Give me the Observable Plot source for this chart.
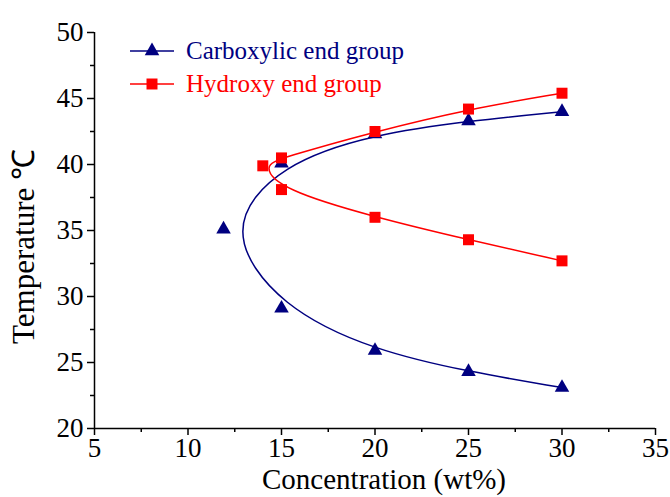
<!DOCTYPE html>
<html>
<head>
<meta charset="utf-8">
<script src="https://cdn.jsdelivr.net/npm/d3@7"></script>
<script src="https://cdn.jsdelivr.net/npm/@observablehq/plot@0.6"></script>
<style>
  html, body { margin: 0; padding: 0; background: #fff; }
  #wrap { position: relative; width: 670px; height: 497px; }
  #chart svg text { font-family: "Liberation Serif", "Times New Roman", serif; }
  #legend { position: absolute; left: 128px; top: 34px; font-family: "Liberation Serif", "Times New Roman", serif; font-size: 25px; }
  .row { display: flex; align-items: center; height: 33px; }
  .row svg { margin-right: 10px; }
</style>
</head>
<body>
<div id="wrap">
  <div id="chart"></div>
  <div id="legend"></div>
</div>
<script>
// Carboxylic end group (path order along the fitted curve)
const carbConc = [30, 25, 20, 15, 11.9, 15, 20, 25, 30];
const carbTemp = [44.0, 43.3, 42.3, 40.1, 35.1, 29.1, 25.9, 24.3, 23.1];
// Hydroxy end group
const hydConc = [30, 25, 20, 15, 14, 15, 20, 25, 30];
const hydTemp = [45.4, 44.2, 42.5, 40.5, 39.9, 38.1, 36.0, 34.3, 32.7];

const seriesNames = ["Carboxylic end group", "Hydroxy end group"];
const xMajor = [5, 10, 15, 20, 25, 30, 35];
const xMinor = [7.5, 12.5, 17.5, 22.5, 27.5, 32.5];
const yMajor = [20, 25, 30, 35, 40, 45, 50];
const yMinor = [22.5, 27.5, 32.5, 37.5, 42.5, 47.5];
const xTitle = "Concentration (wt%)";
const yTitle = "Temperature \u2103";

const BLUE = "#000080";
const RED = "#ff0000";
const FONT = "'Liberation Serif', 'Times New Roman', serif";

const carb = carbConc.map((c, i) => ({c, t: carbTemp[i]}));
const hyd = hydConc.map((c, i) => ({c, t: hydTemp[i]}));

const plot = Plot.plot({
  width: 670,
  height: 497,
  marginLeft: 94,
  marginRight: 15,
  marginTop: 32,
  marginBottom: 69,
  style: {fontFamily: FONT, background: "#fff", color: "#000"},
  x: {domain: [5, 35]},
  y: {domain: [20, 50]},
  marks: [
    Plot.axisX(xMajor, {tickSize: 7, tickPadding: 2, fontSize: 27, fontFamily: FONT, fontVariant: "normal", label: null, strokeWidth: 1.5}),
    Plot.axisX(xMinor, {tickSize: 4, tickFormat: () => "", label: null, strokeWidth: 1.5}),
    Plot.axisY(yMajor, {tickSize: 7, tickPadding: 4, fontSize: 27, fontFamily: FONT, fontVariant: "normal", label: null, strokeWidth: 1.5}),
    Plot.axisY(yMinor, {tickSize: 4, tickFormat: () => "", label: null, strokeWidth: 1.5}),
    Plot.ruleX([5], {stroke: "#000", strokeWidth: 1.5}),
    Plot.ruleY([20], {stroke: "#000", strokeWidth: 1.5}),
    Plot.line(carb, {x: "c", y: "t", curve: "basis", stroke: BLUE, strokeWidth: 1.5}),
    Plot.line(hyd, {x: "c", y: "t", curve: "basis", stroke: RED, strokeWidth: 1.5}),
    Plot.dot(carb, {x: "c", y: "t", symbol: "triangle", r: 5.4, fill: BLUE, stroke: "none"}),
    Plot.dot(hyd, {x: "c", y: "t", symbol: "square", r: 6.2, fill: RED, stroke: "none"}),
    Plot.text([xTitle], {frameAnchor: "bottom", textAnchor: "middle", dy: 60, dx: 9, fontSize: 29, fontFamily: FONT, lineAnchor: "bottom"}),
    Plot.text([yTitle], {frameAnchor: "left", textAnchor: "middle", dx: -70, dy: 16, rotate: -90, fontSize: 31, fontFamily: FONT})
  ]
});
document.getElementById("chart").appendChild(plot);

// legend inside the plot area
const legend = d3.select("#legend");
const sym = [d3.symbolTriangle, d3.symbolSquare];
const sizes = [Math.PI * 5.4 * 5.4, Math.PI * 6.2 * 6.2];
const cols = [BLUE, RED];
seriesNames.forEach((name, i) => {
  const row = legend.append("div").attr("class", "row");
  const s = row.append("svg").attr("width", 48).attr("height", 20);
  s.append("line").attr("x1", 2).attr("x2", 46).attr("y1", 10).attr("y2", 10).attr("stroke", cols[i]).attr("stroke-width", 1.5);
  s.append("path").attr("d", d3.symbol(sym[i], sizes[i])()).attr("transform", "translate(24,10)").attr("fill", cols[i]);
  row.append("span").style("color", cols[i]).text(name);
});
</script>
</body>
</html>
